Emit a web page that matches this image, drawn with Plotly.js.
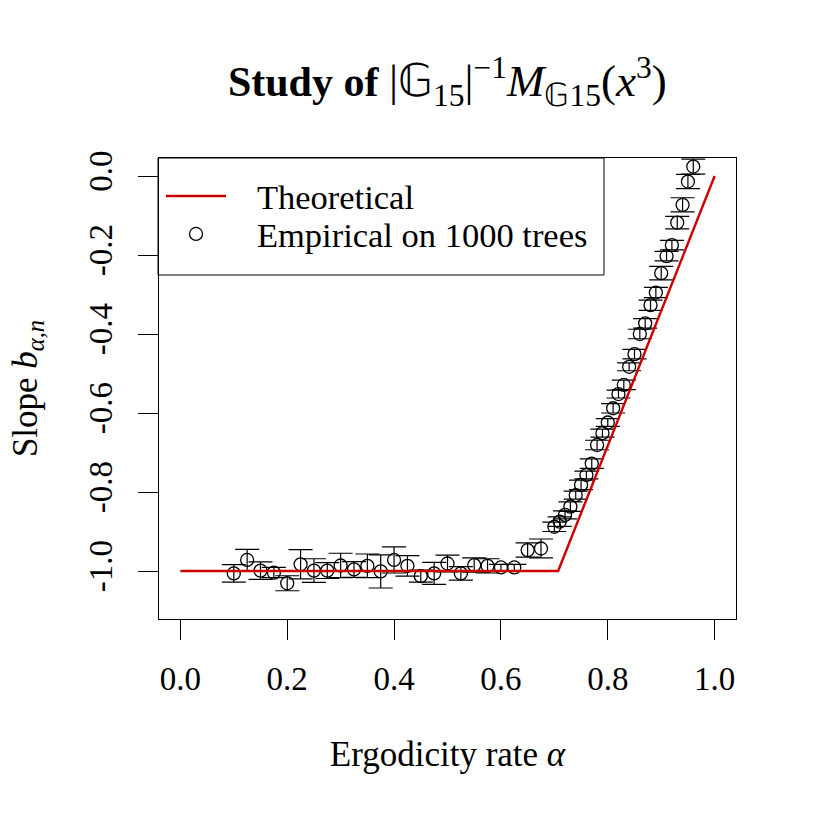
<!DOCTYPE html>
<html>
<head>
<meta charset="utf-8">
<script src="https://cdn.plot.ly/plotly-3.0.1.min.js"></script>
<style>html,body{margin:0;padding:0;background:#fff;}#chart{width:817px;height:817px;}</style>
</head>
<body>
<div id="chart"></div>
<script>
// Empirical points (ergodicity rate alpha, slope, half-width of error bar)
const alpha = [0.1,0.125,0.15,0.175,0.2,0.225,0.25,0.275,0.3,0.325,0.35,0.375,0.4,0.425,0.45,0.475,0.5,0.525,0.55,0.575,0.6,0.625,0.65,0.675,
  0.70,0.71,0.72,0.73,0.74,0.75,0.76,0.77,0.78,0.79,0.80,0.81,0.82,0.83,0.84,0.85,0.86,0.87,0.88,0.89,0.90,0.91,0.92,0.93,0.94,0.95,0.96];
const slope = [-1.006,-0.972,-0.999,-1.004,-1.031,-0.983,-0.999,-0.999,-0.986,-0.996,-0.987,-1.001,-0.972,-0.987,-1.013,-1.006,-0.981,-1.006,-0.985,-0.987,-0.991,-0.991,-0.947,-0.943,
  -0.888,-0.875,-0.858,-0.837,-0.808,-0.782,-0.757,-0.728,-0.681,-0.651,-0.624,-0.588,-0.552,-0.529,-0.483,-0.451,-0.400,-0.373,-0.327,-0.295,-0.246,-0.203,-0.175,-0.118,-0.073,-0.014,0.024];
const slopeErr = [0.022,0.027,0.022,0.013,0.019,0.037,0.030,0.020,0.031,0.020,0.030,0.042,0.033,0.026,0.015,0.028,0.021,0.017,0.018,0.018,0.008,0.008,0.018,0.024,
  0.012,0.012,0.010,0.012,0.010,0.012,0.010,0.012,0.012,0.010,0.010,0.012,0.010,0.012,0.010,0.012,0.012,0.012,0.013,0.013,0.017,0.012,0.012,0.016,0.018,0.018,0.019];

// Theoretical curve
const theoX = [0, 0.7071, 1];
const theoY = [-1, -1, 0];

// Axis ticks
const xTicks = [0, 0.2, 0.4, 0.6, 0.8, 1.0];
const xTickText = ["0.0","0.2","0.4","0.6","0.8","1.0"];
const yTicks = [0, -0.2, -0.4, -0.6, -0.8, -1.0];
const yTickText = ["0.0","-0.2","-0.4","-0.6","-0.8","-1.0"];

const FONT = "Liberation Serif, Times New Roman, serif";
const SP = "\u00a0\u00a0\u00a0";

const traces = [
  {
    x: alpha, y: slope, type: 'scatter', mode: 'markers',
    name: SP + 'Empirical on 1000 trees', legend: 'legend2',
    marker: {symbol: 'circle-open', size: 13, color: '#000', line: {width: 1.3, color: '#000'}},
    error_y: {type: 'data', array: slopeErr, visible: true, color: '#000', thickness: 1.2, width: 12}
  },
  {
    x: theoX, y: theoY, type: 'scatter', mode: 'lines',
    name: SP + 'Theoretical', legend: 'legend',
    line: {color: '#cd0000', width: 2.4}
  }
];

const legendCommon = {
  xanchor: 'left', yanchor: 'middle',
  bgcolor: 'rgba(0,0,0,0)', borderwidth: 0,
  itemwidth: 60,
  font: {family: FONT, size: 34.5}
};

const layout = {
  width: 817, height: 817,
  paper_bgcolor: '#fff', plot_bgcolor: '#fff',
  margin: {l: 159, r: 81, t: 158, b: 198},
  font: {family: FONT, size: 33, color: '#000'},
  title: {
    text: '<b>Study of</b> <span style="font-size:45px">|𝔾<sub>15</sub>|<sup>−1</sup><i>M</i><sub>𝔾15</sub>(<i>x</i><sup>3</sup>)</span>',
    font: {family: FONT, size: 42, color: '#000'},
    x: 0.5475, xanchor: 'center', y: 0.9, yanchor: 'middle'
  },
  xaxis: {
    range: [-0.04, 1.04], tickmode: 'array', tickvals: xTicks, ticktext: xTickText,
    ticks: 'outside', ticklen: 20, tickwidth: 1, tickcolor: '#000',
    showline: true, mirror: true, linecolor: '#000', linewidth: 1,
    showgrid: false, zeroline: false, ticklabelstandoff: 10,
    tickfont: {family: FONT, size: 33},
    title: {text: 'Ergodicity rate <i>α</i>', font: {family: FONT, size: 35}, standoff: 45}
  },
  yaxis: {
    range: [-1.1215, 0.0456], tickmode: 'array', tickvals: yTicks, ticktext: yTickText,
    ticks: 'outside', ticklen: 20, tickwidth: 1, tickcolor: '#000', tickangle: -90,
    showline: true, mirror: true, linecolor: '#000', linewidth: 1,
    showgrid: false, zeroline: false, ticklabelstandoff: 13,
    tickfont: {family: FONT, size: 33},
    title: {text: 'Slope <i>b</i><sub><i>α,n</i></sub>', font: {family: FONT, size: 35}, standoff: 34}
  },
  showlegend: true,
  legend: Object.assign({x: 0.0035, y: 0.9175}, legendCommon),
  legend2: Object.assign({x: 0.0035, y: 0.8351}, legendCommon),
  shapes: [
    {type: 'rect', xref: 'paper', yref: 'paper', x0: -0.0017, x1: 0.7712, y0: 0.7462, y1: 1,
     line: {color: '#000', width: 1}, fillcolor: 'rgba(0,0,0,0)', layer: 'above'}
  ]
};

Plotly.newPlot('chart', traces, layout, {staticPlot: true});
</script>
</body>
</html>
